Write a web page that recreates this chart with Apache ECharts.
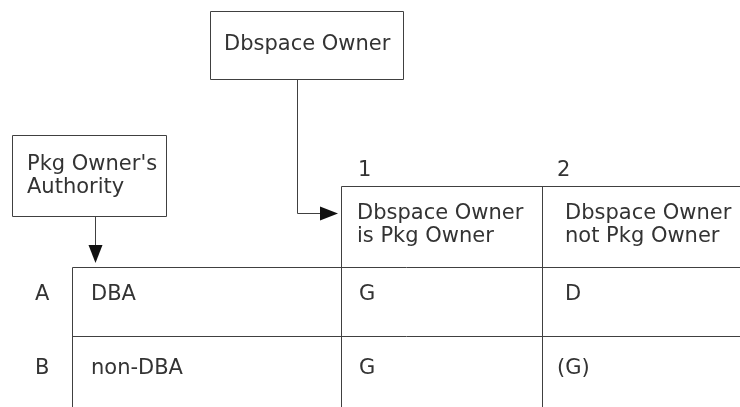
<!DOCTYPE html>
<html>
<head>
<meta charset="utf-8">
<script src="https://cdn.jsdelivr.net/npm/echarts@6/dist/echarts.min.js"></script>
<style>
  html, body { margin: 0; padding: 0; background: #ffffff; }
  #chart { width: 740px; height: 407px; }
</style>
</head>
<body>
<div id="chart"></div>
<script>
// ---- data ----
const topBoxLabel = 'Dbspace Owner';
const sideBoxLabel = "Pkg Owner's\nAuthority";
const colNumbers = ['1', '2'];
const colHeaders = ['Dbspace Owner\nis Pkg Owner', 'Dbspace Owner\nnot Pkg Owner'];
const rowCodes = ['A', 'B'];
const rowNames = ['DBA', 'non-DBA'];
const cellValues = [
  ['G', 'D'],
  ['G', '(G)']
];

// ---- layout (styling, in axis units = pixels) ----
const L = {
  nameColX: 72, colX: [341, 542], right: 740,
  numY: 171, headTop: 186, headCenterY: 225,
  rowTop: [267, 336], bottom: 407,
  rowTextY: [295, 369],
  codeX: 35, nameTextX: 91,
  numDX: [17, 15], headDX: [16, 23], cellDX: [18, 23],
  topBox: { x1: 210, y1: 11, x2: 403, y2: 79, textX: 224, textY: 45, stemX: 297, elbowY: 213, tipX: 338 },
  sideBox: { x1: 12, y1: 135, x2: 166, y2: 216, textX: 27, textY: 176, stemX: 95, tipY: 263 },
  arrowLen: 18, arrowHalf: 7
};
const FONT = "21px 'DejaVu Sans'";
const TEXT_COLOR = '#333333';
const LINE_COLOR = '#404040';

function px(api, x, y) { return api.coord([x, y]); }
function crisp(v) { return Math.round(v) + 0.5; }
function line(api, x1, y1, x2, y2) {
  const a = px(api, x1, y1), b = px(api, x2, y2);
  return { type: 'line', shape: { x1: crisp(a[0]), y1: crisp(a[1]), x2: crisp(b[0]), y2: crisp(b[1]) },
           style: { stroke: LINE_COLOR, lineWidth: 1 } };
}
function text(api, x, y, str, lh) {
  const p = px(api, x, y);
  return { type: 'text', style: { text: str, x: p[0], y: p[1], fill: TEXT_COLOR, font: FONT,
           textAlign: 'left', textVerticalAlign: 'middle', lineHeight: lh || 23 } };
}

const option = {
  animation: false,
  grid: { left: 0, right: 0, top: 0, bottom: 0 },
  xAxis: { type: 'value', min: 0, max: 740, show: false },
  yAxis: { type: 'value', min: 0, max: 407, inverse: true, show: false },
  series: [
    { // frame: boxes, connectors, table lines
      type: 'custom', silent: true, clip: false, data: [[0, 0]],
      renderItem: function (params, api) {
        const c = [];
        const tb = L.topBox, sb = L.sideBox;
        [[tb.x1, tb.y1, tb.x2, tb.y1], [tb.x2, tb.y1, tb.x2, tb.y2], [tb.x2, tb.y2, tb.x1, tb.y2], [tb.x1, tb.y2, tb.x1, tb.y1]]
          .forEach(s => c.push(line(api, s[0], s[1], s[2], s[3])));
        [[sb.x1, sb.y1, sb.x2, sb.y1], [sb.x2, sb.y1, sb.x2, sb.y2], [sb.x2, sb.y2, sb.x1, sb.y2], [sb.x1, sb.y2, sb.x1, sb.y1]]
          .forEach(s => c.push(line(api, s[0], s[1], s[2], s[3])));
        c.push(line(api, tb.stemX, tb.y2, tb.stemX, tb.elbowY));
        c.push(line(api, tb.stemX, tb.elbowY, tb.tipX - L.arrowLen, tb.elbowY));
        const t1 = px(api, tb.tipX, tb.elbowY);
        c.push({ type: 'polygon', shape: { points: [[t1[0], t1[1] + 0.5], [t1[0] - L.arrowLen, t1[1] - L.arrowHalf + 0.5], [t1[0] - L.arrowLen, t1[1] + L.arrowHalf + 0.5]] },
                 style: { fill: '#111' } });
        c.push(line(api, sb.stemX, sb.y2, sb.stemX, sb.tipY - L.arrowLen));
        const t2 = px(api, sb.stemX, sb.tipY);
        c.push({ type: 'polygon', shape: { points: [[t2[0] + 0.5, t2[1]], [t2[0] - L.arrowHalf + 0.5, t2[1] - L.arrowLen], [t2[0] + L.arrowHalf + 0.5, t2[1] - L.arrowLen]] },
                 style: { fill: '#111' } });
        c.push(line(api, L.colX[0], L.headTop, L.right, L.headTop));
        L.rowTop.forEach(y => c.push(line(api, L.nameColX, y, L.right, y)));
        c.push(line(api, L.nameColX, L.rowTop[0], L.nameColX, L.bottom));
        L.colX.forEach(x => c.push(line(api, x, L.headTop, x, L.bottom)));
        return { type: 'group', children: c };
      }
    },
    { // box labels
      type: 'custom', silent: true, clip: false, data: [[0], [1]],
      renderItem: function (params, api) {
        const i = params.dataIndex;
        if (i === 0) return text(api, L.topBox.textX, L.topBox.textY, topBoxLabel);
        return text(api, L.sideBox.textX, L.sideBox.textY, sideBoxLabel);
      }
    },
    { // column numbers
      type: 'custom', silent: true, clip: false, data: colNumbers.map((v, i) => [i]),
      renderItem: function (params, api) {
        const i = params.dataIndex;
        return text(api, L.colX[i] + L.numDX[i], L.numY, colNumbers[i]);
      }
    },
    { // column headers
      type: 'custom', silent: true, clip: false, data: colHeaders.map((v, i) => [i]),
      renderItem: function (params, api) {
        const i = params.dataIndex;
        return text(api, L.colX[i] + L.headDX[i], L.headCenterY, colHeaders[i]);
      }
    },
    { // row codes and names
      type: 'custom', silent: true, clip: false, data: rowCodes.map((v, i) => [i]),
      renderItem: function (params, api) {
        const r = params.dataIndex;
        return { type: 'group', children: [
          text(api, L.codeX, L.rowTextY[r], rowCodes[r]),
          text(api, L.nameTextX, L.rowTextY[r], rowNames[r])
        ] };
      }
    },
    { // cells
      type: 'custom', silent: true, clip: false,
      data: cellValues.flatMap((row, r) => row.map((v, c) => [c, r])),
      renderItem: function (params, api) {
        const c = api.value(0), r = api.value(1);
        const v = cellValues[r][c];
        const hang = v.charAt(0) === '(' ? 8 : 0;
        return text(api, L.colX[c] + L.cellDX[c] - hang, L.rowTextY[r], v);
      }
    }
  ]
};

const chart = echarts.init(document.getElementById('chart'), null, { renderer: 'canvas' });
chart.setOption(option);
</script>
</body>
</html>
